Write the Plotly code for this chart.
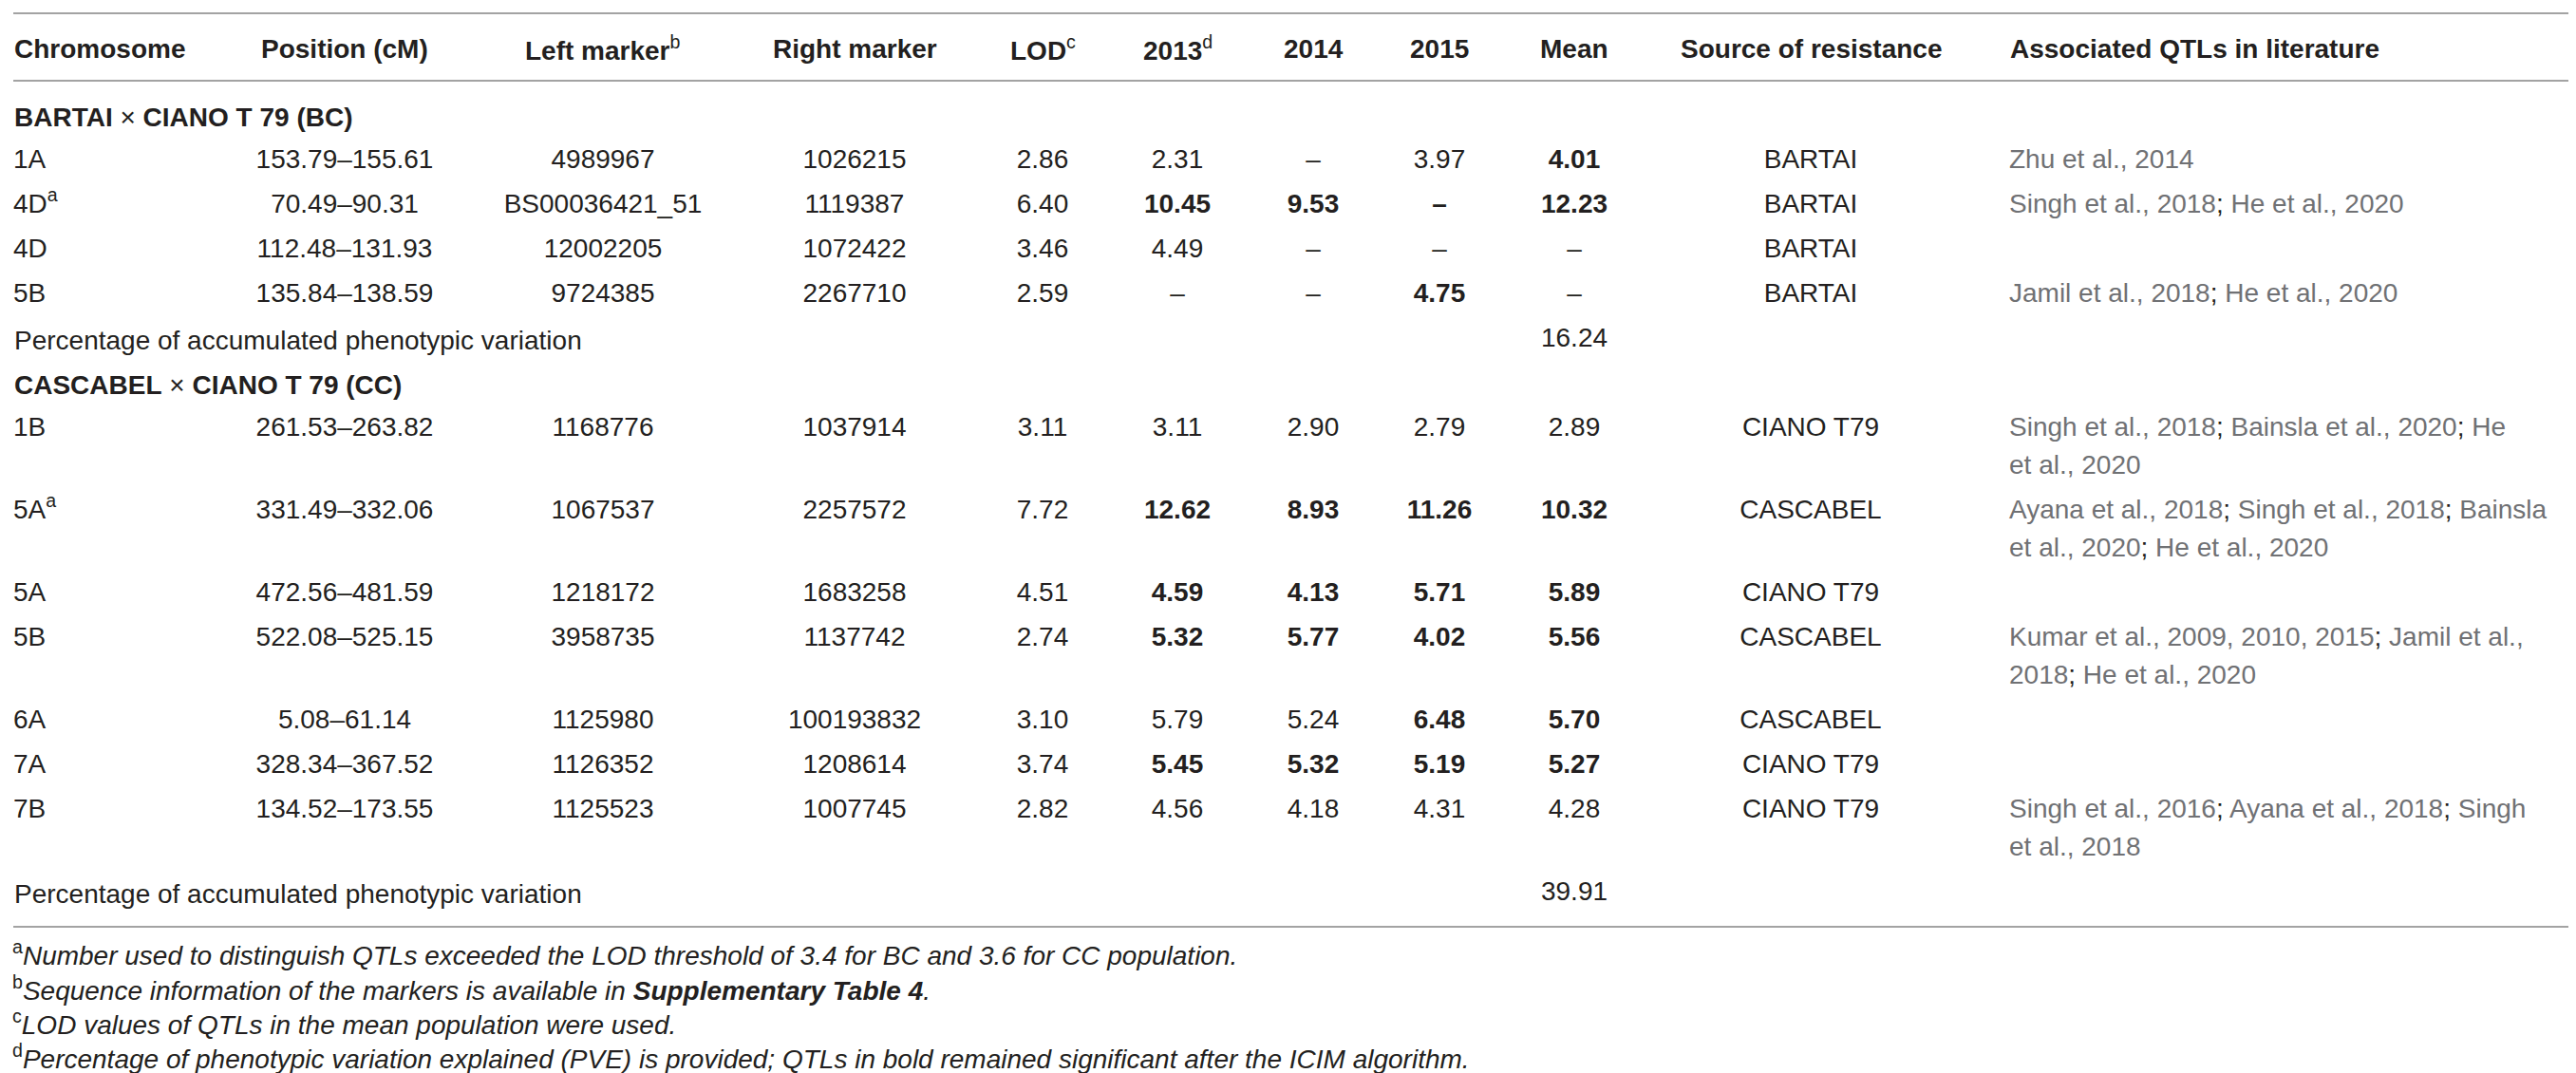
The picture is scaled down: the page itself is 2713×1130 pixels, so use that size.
import plotly.graph_objects as go

# ---------------- data ----------------
headers = ["Chromosome", "Position (cM)", "Left marker", "Right marker", "LOD", "2013",
           "2014", "2015", "Mean", "Source of resistance", "Associated QTLs in literature"]
header_notes = ["", "", "b", "", "c", "d", "", "", "", "", ""]

groups = ["BARTAI", "CASCABEL"]
group_partner = "CIANO T 79"
group_codes = ["BC", "CC"]

bc_chrom = ["1A", "4D", "4D", "5B"]
bc_exceed = [False, True, False, False]
bc_position = ["153.79–155.61", "70.49–90.31", "112.48–131.93", "135.84–138.59"]
bc_left = ["4989967", "BS00036421_51", "12002205", "9724385"]
bc_right = ["1026215", "1119387", "1072422", "2267710"]
bc_lod = ["2.86", "6.40", "3.46", "2.59"]
bc_2013 = ["2.31", "10.45", "4.49", "–"]
bc_2014 = ["–", "9.53", "–", "–"]
bc_2015 = ["3.97", "–", "–", "4.75"]
bc_mean = ["4.01", "12.23", "–", "–"]
bc_sig_2013 = [False, True, False, False]
bc_sig_2014 = [False, True, False, False]
bc_sig_2015 = [False, True, False, True]
bc_sig_mean = [True, True, False, False]
bc_source = ["BARTAI", "BARTAI", "BARTAI", "BARTAI"]
bc_literature = [
    ["Zhu et al., 2014"],
    ["Singh et al., 2018; He et al., 2020"],
    [],
    ["Jamil et al., 2018; He et al., 2020"],
]
bc_pve_total = "16.24"

cc_chrom = ["1B", "5A", "5A", "5B", "6A", "7A", "7B"]
cc_exceed = [False, True, False, False, False, False, False]
cc_position = ["261.53–263.82", "331.49–332.06", "472.56–481.59", "522.08–525.15",
               "5.08–61.14", "328.34–367.52", "134.52–173.55"]
cc_left = ["1168776", "1067537", "1218172", "3958735", "1125980", "1126352", "1125523"]
cc_right = ["1037914", "2257572", "1683258", "1137742", "100193832", "1208614", "1007745"]
cc_lod = ["3.11", "7.72", "4.51", "2.74", "3.10", "3.74", "2.82"]
cc_2013 = ["3.11", "12.62", "4.59", "5.32", "5.79", "5.45", "4.56"]
cc_2014 = ["2.90", "8.93", "4.13", "5.77", "5.24", "5.32", "4.18"]
cc_2015 = ["2.79", "11.26", "5.71", "4.02", "6.48", "5.19", "4.31"]
cc_mean = ["2.89", "10.32", "5.89", "5.56", "5.70", "5.27", "4.28"]
cc_sig_2013 = [False, True, True, True, False, True, False]
cc_sig_2014 = [False, True, True, True, False, True, False]
cc_sig_2015 = [False, True, True, True, True, True, False]
cc_sig_mean = [False, True, True, True, True, True, False]
cc_source = ["CIANO T79", "CASCABEL", "CIANO T79", "CASCABEL", "CASCABEL", "CIANO T79", "CIANO T79"]
cc_literature = [
    ["Singh et al., 2018; Bainsla et al., 2020; He", "et al., 2020"],
    ["Ayana et al., 2018; Singh et al., 2018; Bainsla", "et al., 2020; He et al., 2020"],
    [],
    ["Kumar et al., 2009, 2010, 2015; Jamil et al.,", "2018; He et al., 2020"],
    [],
    [],
    ["Singh et al., 2016; Ayana et al., 2018; Singh", "et al., 2018"],
]
cc_pve_total = "39.91"

pve_label = "Percentage of accumulated phenotypic variation"

footnote_marks = ["a", "b", "c", "d"]
footnote_texts = [
    "Number used to distinguish QTLs exceeded the LOD threshold of 3.4 for BC and 3.6 for CC population.",
    "Sequence information of the markers is available in <b>Supplementary Table 4</b>.",
    "LOD values of QTLs in the mean population were used.",
    "Percentage of phenotypic variation explained (PVE) is provided; QTLs in bold remained significant after the ICIM algorithm.",
]

# ---------------- layout constants ----------------
W, H = 2713, 1130
FONT = "Liberation Sans, Arial, Helvetica, sans-serif"
FS = 28
INK = "#231f20"
GREY = "#707174"
RULE = "#a3a3a3"

col_x = [6, 355, 627, 892, 1090, 1232, 1375, 1508, 1650, 1899, 2108]
col_align = ["left"] + ["center"] * 9 + ["left"]
ROW_PITCH = 47
LINE_PITCH = 40

fig = go.Figure()

cells = {i: {"y": [], "t": []} for i in range(len(headers))}


def add(ci, y, text):
    cells[ci]["y"].append(y)
    cells[ci]["t"].append(text)


def bold(v, flag):
    return f"<b>{v}</b>" if flag else v


def lit_fmt(line):
    return line.replace(";", f"<span style='color:{INK}'>;</span>")


free_text = []  # (x, y, text, align)

y = 115
populations = [
    (bc_chrom, bc_exceed, bc_position, bc_left, bc_right, bc_lod, bc_2013, bc_2014, bc_2015, bc_mean,
     bc_sig_2013, bc_sig_2014, bc_sig_2015, bc_sig_mean, bc_source, bc_literature, bc_pve_total),
    (cc_chrom, cc_exceed, cc_position, cc_left, cc_right, cc_lod, cc_2013, cc_2014, cc_2015, cc_mean,
     cc_sig_2013, cc_sig_2014, cc_sig_2015, cc_sig_mean, cc_source, cc_literature, cc_pve_total),
]
for gi, pop in enumerate(populations):
    (chrom, exceed, pos, left, right, lod, v13, v14, v15, vm,
     s13, s14, s15, sm, source, lit, total) = pop
    free_text.append((6, y, f"<b>{groups[gi]}</b> × <b>{group_partner} ({group_codes[gi]})</b>", "left"))
    y += ROW_PITCH
    for r in range(len(chrom)):
        add(0, y, chrom[r] + ("<sup>a</sup>" if exceed[r] else ""))
        add(1, y, pos[r])
        add(2, y, left[r])
        add(3, y, right[r])
        add(4, y, lod[r])
        add(5, y, bold(v13[r], s13[r]))
        add(6, y, bold(v14[r], s14[r]))
        add(7, y, bold(v15[r], s15[r]))
        add(8, y, bold(vm[r], sm[r]))
        add(9, y, source[r])
        for li, line in enumerate(lit[r]):
            add(10, y + li * LINE_PITCH, lit_fmt(line))
        y += ROW_PITCH + LINE_PITCH * max(0, len(lit[r]) - 1)
    free_text.append((6, y, pve_label, "left"))
    add(8, y, total)
    y += ROW_PITCH

# header row
for ci, h in enumerate(headers):
    note = f"<sup>{header_notes[ci]}</sup>" if header_notes[ci] else ""
    free_text.append((col_x[ci], 43, f"<b>{h}</b>{note}", col_align[ci]))

# table cells as text traces on the axes
for ci in range(len(headers)):
    c = cells[ci]
    if not c["t"]:
        continue
    fig.add_trace(go.Scatter(
        x=[col_x[ci]] * len(c["t"]), y=c["y"], text=c["t"], mode="text",
        textposition="middle right" if col_align[ci] == "left" else "middle center",
        textfont=dict(family=FONT, size=FS, color=GREY if ci == 10 else INK),
        hoverinfo="skip", cliponaxis=False,
    ))

for (x, yy, t, al) in free_text:
    fig.add_annotation(x=x, y=yy, xref="x", yref="y", text=t, showarrow=False,
                       xanchor="left" if al == "left" else "center", yanchor="middle",
                       font=dict(family=FONT, size=FS, color=INK), borderpad=0)

# footnotes
foot_y = [996, 1033, 1069, 1105]
for m, t, fy in zip(footnote_marks, footnote_texts, foot_y):
    fig.add_annotation(x=4, y=fy, xref="x", yref="y",
                       text=f"<sup>{m}</sup><i>{t}</i>", showarrow=False,
                       xanchor="left", yanchor="middle",
                       font=dict(family=FONT, size=FS, color=INK), borderpad=0)

# rules
for ry in [6, 77, 968]:
    fig.add_shape(type="line", x0=6, x1=2706, y0=ry, y1=ry, xref="x", yref="y",
                  line=dict(color=RULE, width=2))

fig.update_layout(
    width=W, height=H, margin=dict(l=0, r=0, t=0, b=0),
    paper_bgcolor="white", plot_bgcolor="white", showlegend=False,
    xaxis=dict(range=[0, W], visible=False, fixedrange=True),
    yaxis=dict(range=[H, 0], visible=False, fixedrange=True),
)

fig.write_html("out.html")
